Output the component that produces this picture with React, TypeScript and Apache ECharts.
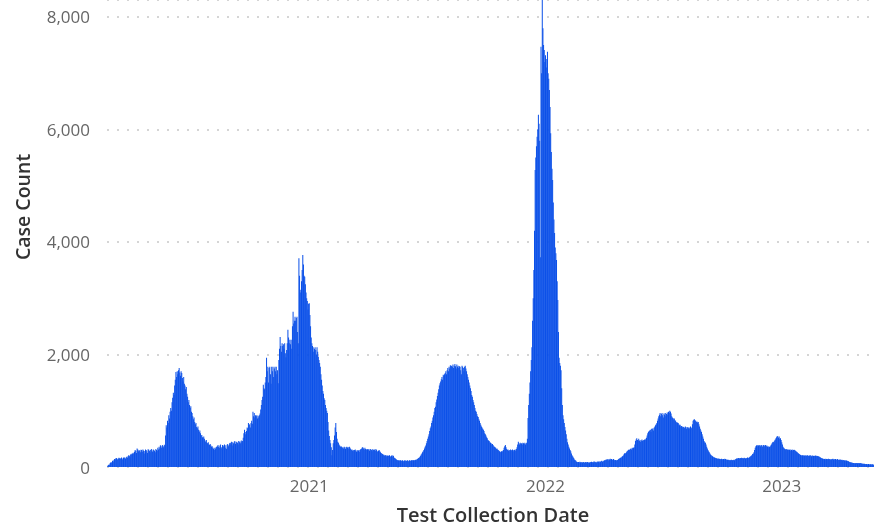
import React, { useEffect, useRef } from "react";
import * as echarts from "echarts";

// Daily case counts, Feb 24 2020 – Dec 31 2020
const y2020 = [
  10, 25, 40, 35, 60, 80, 70, 90, 110, 95,
  120, 140, 130, 150, 160, 145, 135, 150, 165, 155,
  140, 160, 170, 150, 130, 165, 175, 160, 145, 170,
  180, 165, 190, 210, 200, 175, 220, 235, 215, 240,
  255, 230, 270, 300, 285, 250, 330, 310, 280, 300,
  290, 260, 305, 300, 270, 310, 295, 240, 285, 310,
  300, 280, 250, 315, 305, 290, 260, 300, 320, 295,
  270, 310, 300, 285, 260, 320, 300, 290, 340, 310,
  360, 330, 385, 370, 340, 390, 375, 350, 395, 380,
  560, 740, 700, 820, 780, 920, 860, 980, 1050, 1000,
  1150, 1230, 1320, 1280, 1450, 1550, 1690, 1600, 1700, 1650,
  1720, 1760, 1680, 1620, 1700, 1670, 1580, 1520, 1600, 1480,
  1450, 1380, 1420, 1300, 1250, 1150, 1190, 1100, 1050, 1080,
  980, 960, 900, 850, 880, 800, 760, 780, 710, 690,
  720, 660, 620, 650, 600, 560, 570, 530, 520, 540,
  500, 470, 450, 480, 430, 420, 440, 400, 390, 410,
  380, 360, 370, 340, 320, 340, 300, 330, 350, 360,
  370, 390, 360, 340, 380, 400, 350, 330, 390, 380,
  360, 400, 385, 340, 320, 395, 410, 370, 390, 420,
  430, 400, 450, 440, 380, 420, 450, 460, 410, 440,
  450, 430, 400, 460, 440, 455, 420, 470, 440, 460,
  520, 600, 660, 580, 620, 640, 700, 690, 780, 740,
  760, 700, 780, 820, 770, 980, 900, 960, 880, 920,
  900, 920, 860, 910, 880, 920, 950, 1020, 1100, 1190,
  1250, 1460, 1400, 1380, 1500, 1600, 1940, 1700, 1780, 1500,
  1760, 1780, 1650, 1480, 1780, 1700, 1780, 1600, 1750, 1780,
  1700, 1780, 1650, 1720, 1490, 1900, 2100, 2310, 2150, 2050,
  2200, 2150, 2180, 2100, 2200, 2020, 1950, 2080, 2200, 2440,
  2300, 2200, 2260, 2180, 2260, 2100, 2500, 2760, 2550, 2600,
  2670, 2600, 2650, 2670, 2400, 2200, 3710, 3400, 3100, 3150,
  3300, 3500, 3770, 3600, 3400, 3380, 3250, 3100, 3000, 2950, 2800, 2900,
];

// Jan 1 2021 – Dec 31 2021
const y2021 = [
  2910, 2700, 2500, 2300, 2200, 2150, 2130, 2050, 2100, 2130,
  2080, 2000, 2130, 2050, 1960, 1900, 1850, 1780, 1650, 1550,
  1450, 1350, 1300, 1220, 1190, 1100, 1050, 1000, 960, 800,
  650, 550, 480, 420, 350, 210, 300, 420, 480, 560,
  700, 780, 620, 500, 450, 430, 400, 380, 360, 370,
  360, 340, 350, 330, 360, 345, 320, 350, 360, 340,
  355, 330, 360, 340, 320, 300, 310, 290, 300, 280,
  300, 310, 290, 270, 300, 280, 295, 300, 270, 310,
  320, 330, 350, 345, 330, 310, 340, 320, 300, 320,
  315, 300, 320, 290, 310, 320, 300, 280, 315, 305,
  300, 310, 290, 320, 300, 280, 270, 290, 300, 280,
  260, 250, 240, 230, 210, 220, 200, 215, 210, 190,
  210, 200, 195, 205, 210, 190, 180, 200, 210, 185,
  200, 170, 160, 150, 140, 130, 120, 125, 115, 120,
  110, 120, 115, 105, 120, 110, 100, 115, 120, 110,
  105, 115, 120, 100, 110, 120, 115, 105, 120, 125,
  110, 120, 125, 115, 130, 120, 135, 140, 150, 160,
  170, 180, 200, 220, 240, 260, 280, 300, 330, 360,
  380, 420, 460, 500, 540, 580, 640, 690, 720, 780,
  820, 880, 920, 980, 1050, 1070, 1150, 1200, 1260, 1320,
  1380, 1450, 1490, 1520, 1560, 1600, 1550, 1640, 1620, 1650,
  1670, 1700, 1650, 1720, 1760, 1700, 1780, 1750, 1810, 1790,
  1800, 1780, 1820, 1760, 1800, 1830, 1790, 1750, 1820, 1780,
  1800, 1760, 1790, 1780, 1720, 1650, 1800, 1780, 1760, 1700,
  1780, 1800, 1750, 1700, 1650, 1600, 1550, 1500, 1450, 1400,
  1350, 1280, 1250, 1190, 1150, 1100, 1050, 1000, 980, 940,
  900, 890, 850, 820, 780, 750, 720, 700, 680, 660,
  640, 600, 580, 560, 530, 510, 480, 470, 460, 440,
  430, 420, 400, 410, 390, 370, 360, 350, 340, 320,
  330, 310, 300, 290, 280, 270, 260, 280, 270, 290,
  300, 340, 370, 390, 350, 320, 300, 310, 290, 300,
  280, 310, 300, 290, 310, 300, 280, 300, 310, 290,
  320, 350, 400, 450, 420, 400, 430, 410, 420, 400,
  430, 420, 410, 430, 400, 420, 430, 500, 870, 1100,
  1300, 1500, 1700, 1900, 2130, 2600, 3000, 3500, 4200, 5280,
  5500, 5700, 5870, 6000, 6260, 6100, 5800, 3730, 7470, 7000,
  8300, 7800, 7500, 7410, 7200,
];

// Jan 1 2022 – Dec 31 2022
const y2022 = [
  7320, 7100, 7250, 7380, 7000, 6900, 6700, 6400, 5930, 5600,
  5300, 5100, 4700, 4400, 4160, 3900, 3800, 3680, 3300, 2970,
  2400, 1940, 1850, 1800, 1720, 1400, 1100, 920, 850, 780,
  710, 650, 580, 500, 440, 400, 360, 330, 300, 280,
  240, 210, 190, 170, 150, 130, 120, 110, 95, 90,
  85, 90, 80, 95, 85, 75, 90, 80, 85, 90,
  80, 75, 90, 85, 80, 90, 85, 70, 80, 90,
  85, 95, 80, 90, 85, 100, 90, 85, 95, 80,
  90, 100, 95, 85, 100, 90, 105, 110, 95, 100,
  110, 120, 115, 130, 125, 140, 135, 120, 140, 130,
  145, 130, 140, 135, 125, 140, 130, 120, 125, 115,
  120, 125, 130, 140, 150, 155, 165, 170, 180, 190,
  200, 220, 240, 250, 240, 260, 280, 290, 300, 310,
  300, 320, 330, 310, 340, 330, 340, 350, 400, 460,
  490, 510, 480, 470, 500, 460, 480, 450, 470, 490,
  460, 480, 470, 490, 480, 500, 520, 560, 600, 620,
  640, 650, 660, 620, 680, 670, 690, 650, 700, 720,
  740, 760, 780, 820, 860, 900, 930, 960, 900, 940,
  960, 920, 880, 950, 930, 960, 900, 940, 970, 930,
  980, 960, 1000, 980, 950, 900, 880, 870, 850, 860,
  830, 820, 800, 780, 790, 780, 760, 740, 750, 720,
  730, 700, 720, 710, 690, 700, 720, 710, 680, 700,
  710, 690, 700, 680, 720, 700, 690, 760, 820, 840,
  850, 830, 820, 800, 810, 790, 800, 760, 720, 680,
  650, 620, 580, 540, 500, 460, 440, 430, 400, 360,
  330, 300, 280, 260, 240, 220, 210, 200, 190, 180,
  175, 170, 165, 160, 155, 150, 145, 150, 140, 145,
  140, 135, 145, 140, 130, 140, 135, 145, 140, 130,
  135, 130, 125, 130, 120, 125, 120, 130, 125, 120,
  125, 130, 120, 135, 140, 150, 145, 155, 160, 150,
  155, 160, 150, 165, 160, 150, 155, 165, 160, 150,
  155, 160, 170, 165, 160, 175, 180, 190, 200, 215,
  230, 240, 260, 300, 340, 370, 380, 390, 370, 380,
  390, 380, 370, 390, 385, 360, 380, 390, 370, 385,
  390, 370, 380, 360, 370, 350, 360, 360, 380, 400,
  420, 440, 450, 430, 470, 490, 510, 530, 550, 540,
  520, 540, 500, 510, 480,
];

// Jan 1 2023 – May 23 2023
const y2023 = [
  440, 400, 360, 340, 330, 320, 310, 320, 300, 310,
  310, 300, 305, 310, 290, 300, 310, 295, 300, 305,
  300, 290, 280, 270, 260, 250, 240, 230, 220, 215,
  210, 205, 210, 200, 210, 205, 195, 210, 200, 205,
  210, 200, 195, 205, 210, 200, 190, 205, 200, 195,
  200, 195, 205, 190, 200, 195, 185, 190, 180, 175,
  170, 160, 155, 150, 140, 145, 140, 135, 145, 140,
  135, 140, 145, 135, 140, 130, 140, 135, 140, 145,
  135, 140, 130, 140, 135, 130, 140, 135, 125, 130,
  135, 130, 125, 130, 120, 125, 120, 115, 120, 110,
  115, 110, 105, 100, 95, 90, 85, 80, 78, 75,
  70, 72, 68, 70, 65, 72, 70, 68, 65, 70,
  68, 65, 70, 62, 60, 58, 55, 60, 55, 52,
  50, 55, 50, 48, 52, 50, 45, 50, 48, 45,
  50, 45, 40,
];

const yTicks = [0, 2000, 4000, 6000, 8000];
const START = Date.UTC(2020, 1, 24);

export default function App() {
  const ref = useRef<HTMLDivElement>(null);
  useEffect(() => {
    if (!ref.current) return;
    const chart = echarts.init(ref.current, undefined, { renderer: "svg" });
    const values = [...y2020, ...y2021, ...y2022, ...y2023];
    const dates = values.map((_, i) => new Date(START + i * 86400000).toISOString().slice(0, 10));
    const font = "'Open Sans', 'Noto Sans', sans-serif";
    chart.setOption({
      animation: false,
      grid: { left: 107, right: 0, top: 0, bottom: 62 },
      xAxis: {
        type: "category",
        data: dates,
        axisLine: { show: false },
        axisTick: { show: false },
        axisLabel: {
          interval: (_i: number, v: string) => v.endsWith("-01-01"),
          formatter: (v: string) => v.slice(0, 4),
          color: "#666666",
          fontSize: 17,
          fontFamily: font,
          margin: 10,
        },
      },
      yAxis: {
        type: "value",
        min: 0,
        max: 8300,
        interval: 2000,
        axisLine: { show: false },
        axisTick: { show: false },
        splitLine: { lineStyle: { color: "#c8c8c8", type: [2, 8], width: 1.5 } },
        axisLabel: {
          color: "#666666",
          fontSize: 17,
          fontFamily: font,
          margin: 17,
          formatter: (v: number) => (yTicks.includes(v) ? v.toLocaleString("en-US") : ""),
        },
      },
      graphic: [
        {
          type: "text",
          x: 22,
          y: 207,
          rotation: Math.PI / 2,
          style: {
            text: "Case Count",
            fill: "#333333",
            fontSize: 19.5,
            fontFamily: font,
            fontWeight: 600,
            align: "center",
            verticalAlign: "middle",
          },
        },
        {
          type: "text",
          x: 493,
          y: 514,
          style: {
            text: "Test Collection Date",
            fill: "#333333",
            fontSize: 20,
            fontFamily: font,
            fontWeight: 600,
            align: "center",
            verticalAlign: "middle",
          },
        },
      ],
      series: [
        {
          type: "bar",
          data: values,
          barCategoryGap: "0%",
          itemStyle: { color: "#0b50e8" },
        },
      ],
    });
    return () => chart.dispose();
  }, []);
  return <div ref={ref} style={{ position: "fixed", left: 0, top: 0, width: 874, height: 529 }} />;
}
